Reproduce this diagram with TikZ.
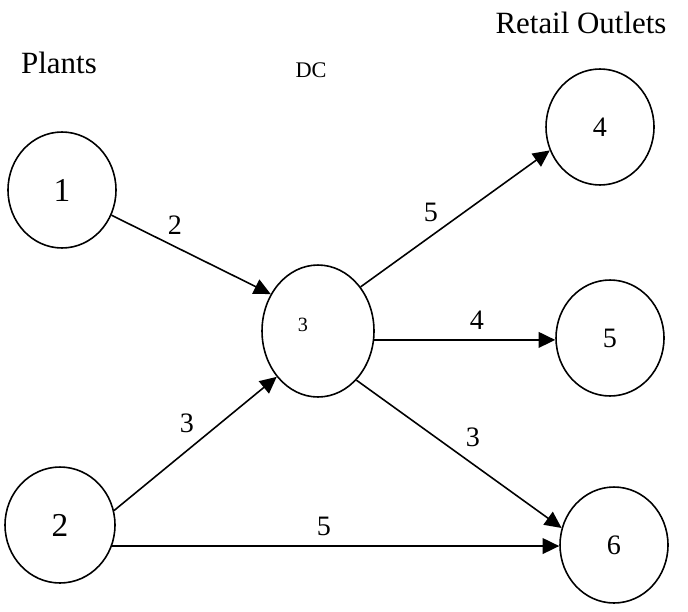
\documentclass[tikz,border=0pt]{standalone}
\usepackage{fontspec}
\setmainfont{Liberation Serif}
\usetikzlibrary{shapes.geometric,arrows.meta}
\newcommand{\fs}[1]{\fontsize{#1}{#1}\selectfont}

\tikzset{
  site/.style={ellipse, draw, line width=0.9pt, inner sep=0pt,
    minimum width=2.16cm, minimum height=2.32cm, font=\fs{16}},
  hub/.style={site, minimum width=2.24cm, minimum height=2.64cm},
  flow/.style={line width=0.9pt, -{Triangle[length=9.5pt,width=9pt]}},
  head/.style={font=\fs{17.6}},
  cost/.style={font=\fs{16}}
}

\begin{document}
\begin{tikzpicture}[x=0.02cm,y=-0.02cm]
\useasboundingbox (0,0) rectangle (688,611);
\node[head] (plants) at (59,63) {Plants};
\node[font=\fs{12.7}] (dc) at (311,70) {DC};
\node[head] (retail) at (581,23) {Retail Outlets};
\node[site, font=\fs{19}] (n1) at (62,190) {1};
\node[site, minimum width=2.2cm, font=\fs{19}] (n2) at (60,525) {2};
\node[hub, label={[font=\fs{11.5}, xshift=-0.3cm, yshift=0.12cm]center:3}] (n3) at (318,331) {};
\node[site] (n4) at (600,127) {4};
\node[site] (n5) at (610,338) {5};
\node[site] (n6) at (614,545) {6};
\draw[flow] (n1.-27) -- (n3.142);
\draw[flow] (n2.15) -- (n3.-132);
\draw[flow] (n3.46) -- (n4.205);
\draw[flow] (n3.-9) -- (n3.-9 -| n5.west);
\draw[flow] (n3.-52) -- (n6.162);
\draw[flow] (n2.-22) -- (n2.-22 -| n6.west);
\node[cost] (c13) at (175,225) {2};
\node[cost] (c23) at (187,423) {3};
\node[cost] (c34) at (431,212) {5};
\node[cost] (c35) at (477,320) {4};
\node[cost] (c36) at (473,437) {3};
\node[cost] (c26) at (324,526) {5};
\end{tikzpicture}
\end{document}
